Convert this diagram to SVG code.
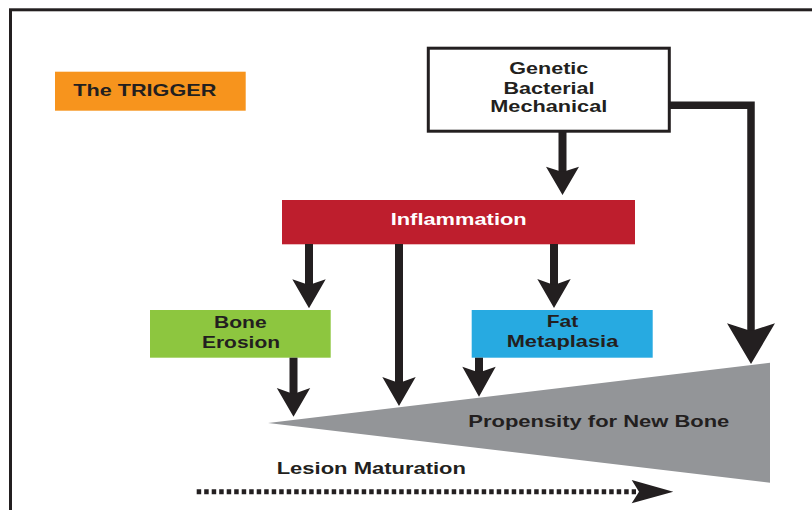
<svg xmlns="http://www.w3.org/2000/svg" width="812" height="510" viewBox="0 0 812 510">
  <style>
    .t { font-family: "Liberation Sans", Arial, Helvetica, sans-serif; font-weight: bold; font-size: 16.5px; fill: #231f20; }
    .w { fill: #ffffff; }
    .shaft { stroke: #231f20; stroke-width: 8; fill: none; }
    .head { fill: #231f20; }
  </style>
  <rect x="0" y="0" width="812" height="510" fill="#ffffff"/>
  <rect x="10.5" y="9.8" width="830" height="530" fill="none" stroke="#231f20" stroke-width="3"/>

  <g id="trigger">
    <rect x="55" y="71.7" width="190.7" height="39" fill="#f7941d"/>
    <text class="t" x="73.3" y="96" textLength="143" lengthAdjust="spacingAndGlyphs">The TRIGGER</text>
  </g>

  <g id="causes">
    <rect x="428.3" y="48.2" width="241" height="83" fill="#ffffff" stroke="#231f20" stroke-width="3"/>
    <text class="t" x="509.3" y="74.3" textLength="79" lengthAdjust="spacingAndGlyphs">Genetic</text>
    <text class="t" x="503.5" y="93.5" textLength="91" lengthAdjust="spacingAndGlyphs">Bacterial</text>
    <text class="t" x="490.3" y="112.3" textLength="117" lengthAdjust="spacingAndGlyphs">Mechanical</text>
  </g>

  <g id="inflammation">
    <rect x="282" y="200" width="353" height="44.3" fill="#be1e2d"/>
    <text class="t w" x="390.7" y="225" textLength="136" lengthAdjust="spacingAndGlyphs">Inflammation</text>
  </g>

  <g id="bone-erosion">
    <rect x="150" y="310" width="180.7" height="47.7" fill="#8dc63f"/>
    <text class="t" x="214" y="328.3" textLength="52.7" lengthAdjust="spacingAndGlyphs">Bone</text>
    <text class="t" x="202" y="347.7" textLength="78" lengthAdjust="spacingAndGlyphs">Erosion</text>
  </g>

  <g id="fat-metaplasia">
    <rect x="471.7" y="310" width="181" height="47.7" fill="#27aae1"/>
    <text class="t" x="546.7" y="327.3" textLength="31.6" lengthAdjust="spacingAndGlyphs">Fat</text>
    <text class="t" x="506.7" y="346.7" textLength="111.6" lengthAdjust="spacingAndGlyphs">Metaplasia</text>
  </g>

  <g id="new-bone">
    <polygon points="268,423 770,362.7 770,482.7" fill="#939598"/>
    <text class="t" x="468.3" y="426.7" textLength="261" lengthAdjust="spacingAndGlyphs">Propensity for New Bone</text>
  </g>

  <g id="lesion-maturation">
    <text class="t" x="276.7" y="474.3" textLength="189.3" lengthAdjust="spacingAndGlyphs">Lesion Maturation</text>
  </g>

  <g id="connectors">
    <!-- causes -> inflammation -->
    <line class="shaft" x1="562.5" y1="131" x2="562.5" y2="174"/>
    <polygon class="head" points="546,166.7 562.5,172 579,166.7 562.5,195"/>
    <!-- inflammation -> bone erosion -->
    <line class="shaft" x1="309" y1="244" x2="309" y2="287"/>
    <polygon class="head" points="292.3,279.3 309,285 325.7,279.3 309,308.3"/>
    <!-- inflammation -> new bone -->
    <line class="shaft" x1="399" y1="244" x2="399" y2="385"/>
    <polygon class="head" points="382.3,377 399,383 415.7,377 399,406"/>
    <!-- inflammation -> fat metaplasia -->
    <line class="shaft" x1="554" y1="244" x2="554" y2="287"/>
    <polygon class="head" points="537.3,279 554,285 570.7,279 554,308"/>
    <!-- bone erosion -> new bone -->
    <line class="shaft" x1="293.5" y1="357.7" x2="293.5" y2="395"/>
    <polygon class="head" points="276.8,388 293.5,394 310.2,388 293.5,416.7"/>
    <!-- fat metaplasia -> new bone -->
    <line class="shaft" x1="479" y1="357.7" x2="479" y2="374"/>
    <polygon class="head" points="462.3,366.7 479,372.5 495.7,366.7 479,396.7"/>
    <!-- causes -> new bone (direct) -->
    <path d="M669.8,105.3 H751 V332" fill="none" stroke="#231f20" stroke-width="7.5" stroke-linejoin="miter"/>
    <polygon class="head" points="727,323.3 751,331 775,323.3 751,364"/>
    <!-- lesion maturation -->
    <line x1="196.7" y1="491.7" x2="636" y2="491.7" stroke="#231f20" stroke-width="5" stroke-dasharray="4.5 3"/>
    <polygon class="head" points="631.7,480 673.3,491.7 631.7,503.3 639,491.7"/>
  </g>
</svg>
